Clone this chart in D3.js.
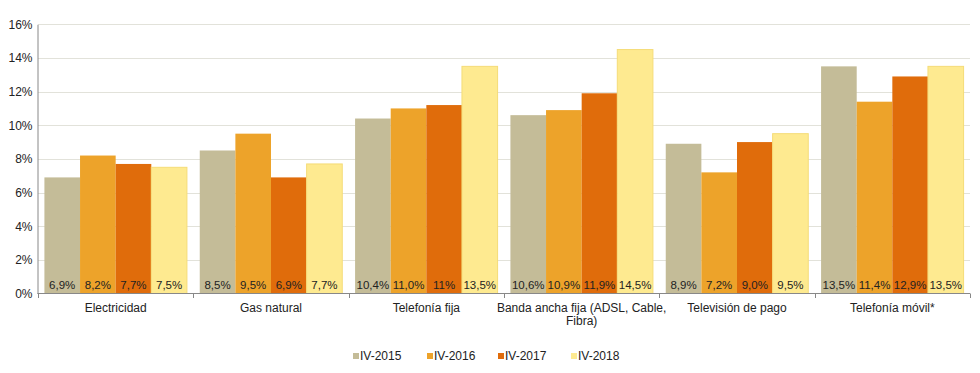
<!DOCTYPE html>
<html>
  <head>
    <meta charset="utf-8">
    <style>
    body {
      font-family: Arial, "Liberation Sans", sans-serif;
      margin: 0;
      background: #fff;
    }
    </style>
  </head>
  <body>
    <script src="https://d3js.org/d3.v7.min.js"></script>
    <script>
    var width = 980, height = 373;

    var categories = ["Electricidad", "Gas natural", "Telefonía fija",
      "Banda ancha fija (ADSL, Cable,|Fibra)", "Televisión de pago", "Telefonía móvil*"];
    var seriesNames = ["IV-2015", "IV-2016", "IV-2017", "IV-2018"];
    var colors = ["#c4bc98", "#eda32a", "#e06c0b", "#feea90"];

    var s2015 = [6.9, 8.5, 10.4, 10.6, 8.9, 13.5];
    var s2016 = [8.2, 9.5, 11.0, 10.9, 7.2, 11.4];
    var s2017 = [7.7, 6.9, 11.2, 11.9, 9.0, 12.9];
    var s2018 = [7.5, 7.7, 13.5, 14.5, 9.5, 13.5];
    // labels as printed (one of them reads "11%")
    var labels2015 = ["6,9%", "8,5%", "10,4%", "10,6%", "8,9%", "13,5%"];
    var labels2016 = ["8,2%", "9,5%", "11,0%", "10,9%", "7,2%", "11,4%"];
    var labels2017 = ["7,7%", "6,9%", "11%", "11,9%", "9,0%", "12,9%"];
    var labels2018 = ["7,5%", "7,7%", "13,5%", "14,5%", "9,5%", "13,5%"];
    var yTicks = [0, 2, 4, 6, 8, 10, 12, 14, 16];

    var series = [s2015, s2016, s2017, s2018];
    var labels = [labels2015, labels2016, labels2017, labels2018];

    var x0 = d3.scaleBand().domain(categories).range([38, 970]).paddingInner(0).paddingOuter(0);
    var x1 = d3.scaleBand().domain(seriesNames).range([0, x0.bandwidth()]).paddingOuter(0.18);
    var y = d3.scaleLinear().domain([0, 16]).range([293.5, 24.3]);

    var svg = d3.select("body").append("svg")
        .attr("width", width)
        .attr("height", height);

    // gridlines
    svg.append("g").selectAll("line").data(yTicks.slice(1)).enter().append("line")
        .attr("x1", 38).attr("x2", 970)
        .attr("y1", function(d) { return Math.round(y(d)) + 0.5; })
        .attr("y2", function(d) { return Math.round(y(d)) + 0.5; })
        .attr("stroke", "#e2e2da");

    // bars
    var groups = svg.append("g").selectAll("g").data(categories).enter().append("g")
        .attr("transform", function(d) { return "translate(" + x0(d) + ",0)"; });

    groups.each(function(cat, ci) {
      var g = d3.select(this);
      seriesNames.forEach(function(sn, si) {
        var v = series[si][ci];
        g.append("rect")
          .attr("x", x1(sn))
          .attr("width", x1.bandwidth())
          .attr("y", y(v))
          .attr("height", y(0) - y(v))
          .attr("fill", colors[si])
          .attr("stroke", si === 3 ? "#f5dc78" : "none")
          .attr("stroke-width", 1);
        g.append("text")
          .attr("x", x1(sn) + x1.bandwidth() / 2)
          .attr("y", y(0) - 5)
          .attr("text-anchor", "middle")
          .attr("font-size", "11.5px")
          .attr("fill", "#222")
          .text(labels[si][ci]);
      });
    });

    // axes
    var yAxis = d3.axisLeft(y).tickValues(yTicks).tickSize(0).tickPadding(5)
        .tickFormat(function(d) { return d + "%"; });
    var ya = svg.append("g").attr("transform", "translate(37.5,0)").call(yAxis);
    ya.select(".domain").attr("stroke", "#888");
    ya.selectAll("text").attr("font-size", "12px").attr("fill", "#222")
        .attr("font-family", "Arial, 'Liberation Sans', sans-serif");

    var xa = svg.append("g");
    xa.append("line").attr("x1", 37.5).attr("x2", 970).attr("y1", 293.5).attr("y2", 293.5)
        .attr("stroke", "#888");
    var bounds = categories.map(function(c) { return x0(c); }).concat([970]);
    xa.selectAll(".tk").data(bounds).enter().append("line")
        .attr("x1", function(d) { return Math.round(d) + 0.5; })
        .attr("x2", function(d) { return Math.round(d) + 0.5; })
        .attr("y1", 293.5).attr("y2", 298)
        .attr("stroke", "#888");

    xa.selectAll(".cat").data(categories).enter().append("text")
        .attr("x", function(d) { return x0(d) + x0.bandwidth() / 2; })
        .attr("y", 312)
        .attr("text-anchor", "middle")
        .attr("font-size", "12px")
        .attr("fill", "#222")
        .each(function(d) {
          var parts = d.split("|");
          var t = d3.select(this);
          parts.forEach(function(p, i) {
            t.append("tspan").attr("x", x0(d) + x0.bandwidth() / 2)
              .attr("dy", i === 0 ? 0 : 13).text(p);
          });
        });

    // legend
    var legX = [353, 427, 498, 571];
    var leg = svg.append("g").selectAll("g").data(seriesNames).enter().append("g")
        .attr("transform", function(d, i) { return "translate(" + legX[i] + ",357)"; });
    leg.append("rect").attr("x", 0).attr("y", -4).attr("width", 6).attr("height", 6)
        .attr("fill", function(d, i) { return colors[i]; });
    leg.append("text").attr("x", 7).attr("y", 2.5)
        .attr("font-size", "12px").attr("fill", "#222")
        .text(function(d) { return d; });
    </script>
  </body>
</html>
